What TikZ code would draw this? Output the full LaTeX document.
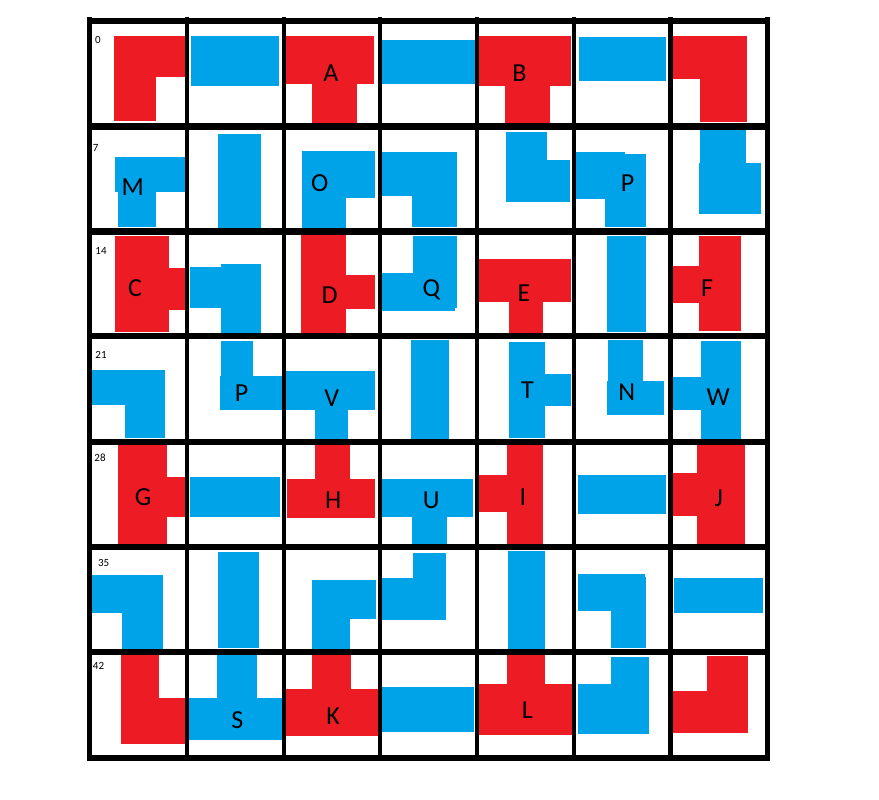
\documentclass[tikz,border=0pt]{standalone}
\usepackage{fontspec}
\setmainfont{Carlito}
\definecolor{paintred}{RGB}{237,28,36}
\definecolor{paintblue}{RGB}{0,162,232}
\tikzset{
  tilelabel/.style={font=\fontsize{26}{26}\selectfont,inner sep=0pt},
  cellno/.style={font=\fontsize{11}{11}\selectfont,inner sep=0pt}
}
\begin{document}
\begin{tikzpicture}[x=1pt,y=-1pt]
  \useasboundingbox[fill=white] (0,0) rectangle (879,800);
  % red pieces, each as rectangles x1/y1/x2/y2
  \foreach \xa/\ya/\xb/\yb in {114/36/184.6/76.7, 114/76.7/155.6/121,
      282.7/36/374.2/83.7, 311.7/83.7/356.8/124,
      479.2/36/570.8/86, 504.7/86/549.8/123.3,
      671.4/36/746.8/79, 700/79/746.8/122,
      115.4/236/168.5/331.7, 168.5/268/184.6/309.7,
      300.5/235/345.6/332.7, 345.6/275/374.6/308.7,
      478.3/259/570.8/301.7, 508.7/301.7/543/332.7,
      699/236/741/331, 673.2/266/699/303,
      117.6/441.7/166.7/543.7, 166.7/477/184.6/516.7,
      314.8/444/349.6/479, 286.7/479/374.6/517.7,
      506.9/445/542.6/543.7, 478.3/475/506.9/511.7,
      697.3/443/745/545, 671.4/473/697.3/516,
      120.8/655/158.7/743.7, 158.7/698/185.9/743.7,
      311.7/654/350.5/689, 284/689/377.9/735.7,
      506.9/653/544.9/685, 478.3/684/571.7/735,
      707.1/656/747.7/733, 671.4/691/707.1/733}
    \fill[paintred] (\xa,\ya) rectangle (\xb,\yb);
  % blue pieces
  \foreach \xa/\ya/\xb/\yb in {190.6/36/278.5/86, 379/40/475/83.7, 579.4/36.7/665.5/81,
      115.4/157/184.6/191.7, 117.6/191.7/156.4/226.7,
      217.8/134/260.7/228.3,
      301.9/151/374.6/197.7, 301.9/197.7/345.6/228.3,
      382.2/152/456.8/196, 411.7/196/456.8/226.7,
      506/132/546.6/201.7, 506/160/569.9/201.7,
      575.3/152/625.3/198.7, 605.3/154/646.3/226.7,
      699.5/130/745.5/163.3, 698.5/163.3/761/213.7,
      190.1/267/260.7/307.7, 220.9/264/260.7/333.7,
      412.6/236/456.8/307.7, 378.7/273/455/310.7,
      606.6/236/646.3/331.7,
      91.7/370/165.4/405, 124.8/405/165.4/437.7,
      220.9/341/253/376, 220/376/284/409.7,
      285.3/371/374.6/409.7, 314.8/409.7/348.3/440,
      410.8/340/448.8/438.7,
      508.7/342/544.9/437.7, 544.9/374/570.8/406,
      607.5/340/643.2/381, 606.6/381/664.2/415,
      700.9/341/741/438.7, 673.2/377/700.9/409.7,
      189.7/477/279.9/516.7,
      382.2/479/472.9/516.7, 411.7/516.7/446.5/543.7,
      577.6/475/665.9/513.7,
      91.7/575/162.7/612.7, 121.6/612.7/162.7/650,
      217.8/552/258.9/647.7,
      311.7/580/375.5/619, 311.7/619/349.6/649,
      412.6/553/445.6/620, 382.2/577.7/445.6/620,
      507.8/551/544.9/649,
      577.6/574/645.4/611, 610.6/576.7/646.3/647.7,
      674/578/763.4/613,
      216.9/655/256.6/698, 188/698/283.3/739.7,
      380.9/687/473.8/732,
      610.6/657/649.4/731, 577.6/684/649.4/734}
    \fill[paintblue] (\xa,\ya) rectangle (\xb,\yb);
  % grid
  \foreach \gx in {89.5,187,284,380,477,574,670.5,767.5}
    \draw[line width=4.5pt] (\gx,17.3) -- (\gx,761);
  \foreach \gy in {21,126.5,231.5,336,442,547,652,758}
    \draw[line width=6.5pt] (87.3,\gy) -- (769.8,\gy);
  % cell numbers
  \foreach \n/\px/\py in {0/97.8/39.5,7/95.7/148.3,14/101/251,21/101/355,
      28/100/458,35/103.6/562.5,42/98.5/666}
    \node[cellno] (no\n) at (\px,\py) {\n};
  % piece letters
  \foreach \t/\px/\py [count=\i] in {A/330.9/73.3,B/519.4/73.3,M/132.8/186.7,
      O/319.7/183.3,P/627.6/183.3,C/135/288.3,D/329.5/295,Q/431.3/290,
      E/523.9/293.3,F/707/288.3,P/241.5/393.3,V/331.8/398.3,T/527.4/390,
      N/626.7/391.7,W/718.3/396.7,G/143/496.7,H/333.1/500,U/431.3/500,
      I/523/496.7,J/718.7/498.3,S/237.4/720,K/333.1/716,L/527.4/710}
    \node[tilelabel] (tile\i) at (\px,\py) {\t};
\end{tikzpicture}
\end{document}
